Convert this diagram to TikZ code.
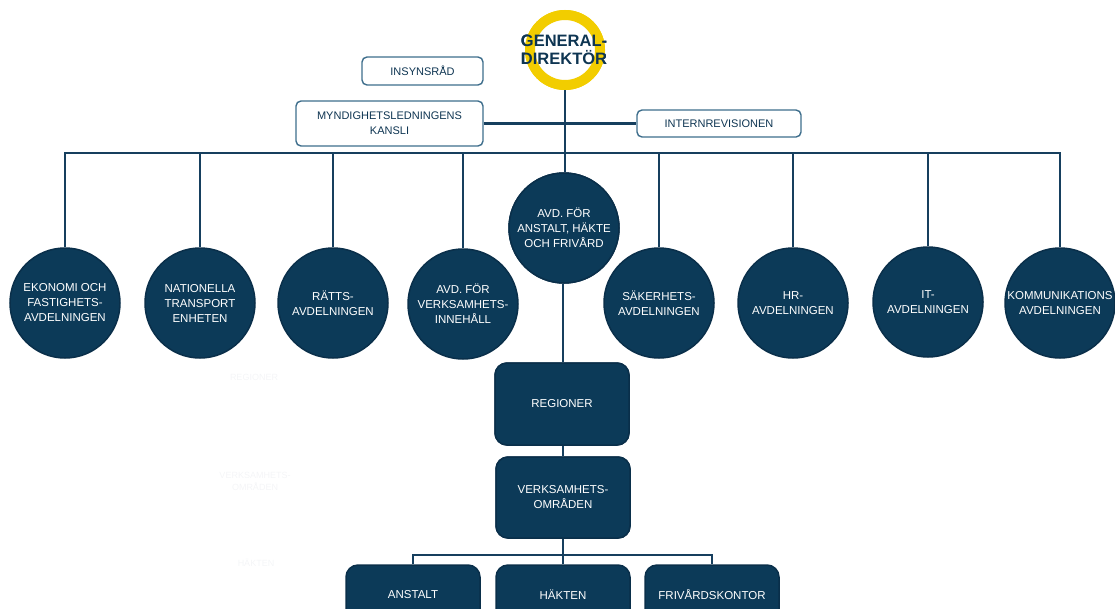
\documentclass[tikz,border=0pt]{standalone}
\usepackage{fontspec}
\setmainfont{Liberation Sans}
\definecolor{navy}{HTML}{0C3A58}
\definecolor{navyline}{HTML}{0A2F4A}
\definecolor{conn}{HTML}{163F5E}
\definecolor{boxline}{HTML}{3E6E8C}
\definecolor{gdyellow}{HTML}{F2CD00}
\definecolor{gdtext}{HTML}{0E3552}
\definecolor{ghost}{HTML}{F4F5F7}
\tikzset{
  dept/.style={circle, minimum size=110pt, inner sep=0pt, fill=navy, draw=navyline, line width=1.5pt,
    text=white, align=center, font=\fontsize{11.5}{15}\selectfont},
  unit/.style={rectangle, rounded corners=12pt, minimum width=134pt, fill=navy, draw=navyline, line width=1.5pt,
    text=white, align=center, font=\fontsize{11.5}{15}\selectfont},
  staff/.style={rectangle, rounded corners=5pt, fill=white, draw=boxline, line width=1.4pt,
    text=gdtext, align=center, font=\fontsize{11}{15}\selectfont},
  link/.style={draw=conn, line width=2.3pt},
  gdring/.style={circle, minimum size=70pt, inner sep=0pt, fill=white, draw=gdyellow, line width=10pt},
  gdlabel/.style={text=gdtext, align=center, font=\bfseries\fontsize{16.5}{18}\selectfont},
  ghosttext/.style={text=ghost, align=center, font=\fontsize{9}{12}\selectfont}
}
\begin{document}
\begin{tikzpicture}[x=1pt, y=-1pt]
\useasboundingbox (0,0) rectangle (1115,608);
\clip (0,0) rectangle (1115,608);
% ghost labels
\node[ghosttext] (g1) at (254,377) {REGIONER};
\node[ghosttext] (g2) at (255,481) {VERKSAMHETS-\\OMRÅDEN};
\node[ghosttext] (g3) at (256,563) {HÄKTEN};
% top
\node[gdring] (gd) at (565,50) {};
\node[gdlabel] (gdt) at (564,50) {GENERAL-\\DIREKTÖR};
\node[staff, minimum width=121pt, minimum height=28pt] (ins) at (422.5,71) {INSYNSRÅD};
\node[staff, minimum width=187pt, minimum height=45pt] (kan) at (389.5,123.5) {MYNDIGHETSLEDNINGENS\\KANSLI};
\node[staff, minimum width=164pt, minimum height=27pt] (int) at (719,123.5) {INTERNREVISIONEN};
% departments
\node[dept] (eko) at (65,303) {EKONOMI OCH\\FASTIGHETS-\\AVDELNINGEN};
\node[dept] (nat) at (200,303) {NATIONELLA\\TRANSPORT\\ENHETEN};
\node[dept] (rat) at (333,303) {RÄTTS-\\AVDELNINGEN};
\node[dept] (ver) at (463,304) {AVD. FÖR\\VERKSAMHETS-\\INNEHÅLL};
\node[dept] (avd) at (564,228) {AVD. FÖR\\ANSTALT, HÄKTE\\OCH FRIVÅRD};
\node[dept] (sak) at (659,303) {SÄKERHETS-\\AVDELNINGEN};
\node[dept] (hr) at (793,303) {HR-\\AVDELNINGEN};
\node[dept] (it) at (928,302) {IT-\\AVDELNINGEN};
\node[dept] (kom) at (1060,303) {KOMMUNIKATIONS\\AVDELNINGEN};
% units
\node[unit, minimum height=82pt] (reg) at (562,404) {REGIONER};
\node[unit, minimum height=81pt] (vo) at (563,497.5) {VERKSAMHETS-\\OMRÅDEN};
\node[unit, minimum height=60pt] (ans) at (413,595) {ANSTALT};
\node[unit, minimum height=60pt] (hak) at (563,595) {HÄKTEN};
\node[unit, minimum height=60pt] (fri) at (712,595) {FRIVÅRDSKONTOR};
% connectors
\coordinate (bus) at (0,153);
\coordinate (bus2) at (0,555);
\path[link] (gd.south) -- (gd.south |- avd.north);
\path[link] (kan.east) -- (int.west);
\path[link] (eko.north) |- (bus -| kom) -- (kom.north);
\foreach \n in {nat,rat,ver,sak,hr,it}{
  \path[link] (\n.north) -- (\n.north |- bus);
}
\path[link] (reg.north -| 563,0) -- (avd.south -| 563,0);
\path[link] (reg.south -| 563,0) -- (vo.north -| 563,0);
\path[link] (vo.south) -- (vo.south |- bus2);
\path[link] (ans.north) |- (bus2 -| fri) -- (fri.north);
\path[link] (hak.north) -- (hak.north |- bus2);
% redraw nodes over the lines
\node[gdring] at (gd) {};
\node[gdlabel] at (gdt) {GENERAL-\\DIREKTÖR};
\node[dept] at (avd) {AVD. FÖR\\ANSTALT, HÄKTE\\OCH FRIVÅRD};
\node[unit, minimum height=82pt] at (reg) {REGIONER};
\node[unit, minimum height=81pt] at (vo) {VERKSAMHETS-\\OMRÅDEN};
\end{tikzpicture}
\end{document}
